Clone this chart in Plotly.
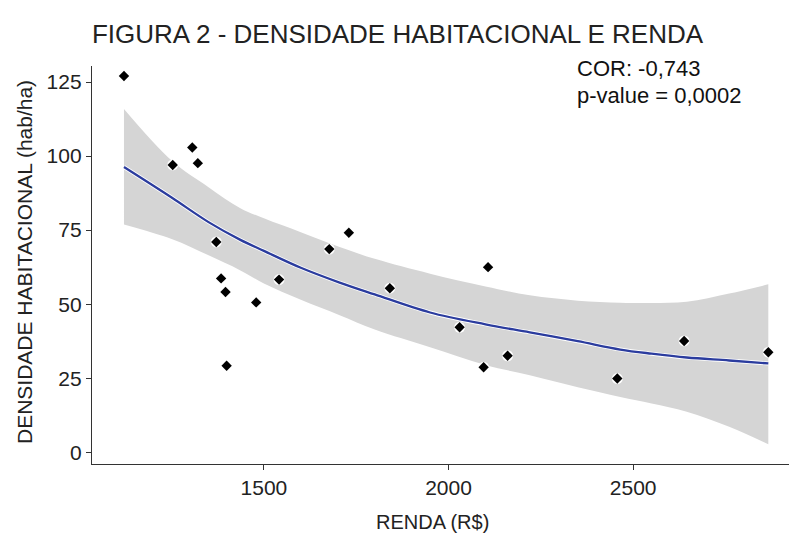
import plotly.graph_objects as go

# Observed points: RENDA (R$) vs DENSIDADE HABITACIONAL (hab/ha)
renda = [1121, 1253, 1306, 1321, 1371, 1384, 1396, 1399, 1479, 1541,
         1677, 1730, 1841, 2030, 2095, 2107, 2160, 2457, 2638, 2866]
densidade = [127.0, 97.0, 102.9, 97.6, 71.0, 58.7, 54.1, 29.2, 50.6, 58.3,
             68.6, 74.1, 55.4, 42.2, 28.7, 62.5, 32.6, 24.9, 37.6, 33.8]

# Smooth fit and its confidence band
smooth_x = [1121, 1250, 1350, 1435, 1500, 1600, 1705, 1800, 1950, 2100,
            2220, 2350, 2465, 2550, 2645, 2760, 2866]
smooth_fit = [96.3, 86.0, 77.7, 71.8, 68.0, 62.3, 57.3, 53.3, 47.2, 43.2,
              40.5, 37.5, 34.7, 33.3, 32.0, 31.0, 30.0]
smooth_upper = [115.9, 98.5, 89.5, 82.5, 79.0, 74.3, 69.3, 65.3, 60.3, 56.0,
                53.0, 51.2, 50.5, 50.4, 50.8, 53.6, 56.7]
smooth_lower = [76.9, 72.0, 66.5, 61.5, 57.0, 51.5, 46.3, 41.5, 35.5, 29.5,
                26.0, 22.0, 18.7, 16.5, 13.7, 8.6, 2.7]

x_ticks = [1500, 2000, 2500]
y_ticks = [0, 25, 50, 75, 100, 125]

title_text = "FIGURA 2 - DENSIDADE HABITACIONAL E RENDA"
x_title = "RENDA (R$)"
y_title = "DENSIDADE HABITACIONAL (hab/ha)"
cor_text = "COR: -0,743"
pval_text = "p-value = 0,0002"

FONT = "Liberation Sans, Arial, sans-serif"
RIBBON = "#D5D5D5"

fig = go.Figure()

# Confidence ribbon (lower edge, then upper edge filled to it)
fig.add_trace(go.Scatter(x=smooth_x, y=smooth_lower, mode="lines",
                         line=dict(width=0, shape="spline", color=RIBBON),
                         hoverinfo="skip", showlegend=False))
fig.add_trace(go.Scatter(x=smooth_x, y=smooth_upper, mode="lines",
                         line=dict(width=0, shape="spline", color=RIBBON),
                         fill="tonexty", fillcolor=RIBBON,
                         hoverinfo="skip", showlegend=False))

# White halo under the fit line
fig.add_trace(go.Scatter(x=smooth_x, y=smooth_fit, mode="lines",
                         line=dict(color="white", width=4, shape="spline"),
                         hoverinfo="skip", showlegend=False))
fig.add_trace(go.Scatter(x=smooth_x, y=smooth_fit, mode="lines",
                         line=dict(color="#2B3C9E", width=2.3, shape="spline"),
                         showlegend=False))

# Points: white halo + black diamond
fig.add_trace(go.Scatter(x=renda, y=densidade, mode="markers",
                         marker=dict(symbol="circle", size=11, color="white"),
                         hoverinfo="skip", showlegend=False))
fig.add_trace(go.Scatter(x=renda, y=densidade, mode="markers",
                         marker=dict(symbol="diamond", size=8, color="black"),
                         showlegend=False))

fig.add_annotation(x=2342, y=129.5, xref="x", yref="y", text=cor_text,
                   showarrow=False, xanchor="left", yanchor="middle",
                   font=dict(family=FONT, size=22, color="#111"))
fig.add_annotation(x=2342, y=120.4, xref="x", yref="y", text=pval_text,
                   showarrow=False, xanchor="left", yanchor="middle",
                   font=dict(family=FONT, size=22, color="#111"))

# Axis titles
fig.add_annotation(x=0.489, y=-0.1457, xref="paper", yref="paper",
                   text=x_title, showarrow=False, xanchor="center",
                   yanchor="middle",
                   font=dict(family=FONT, size=20, color="#222"))
fig.add_annotation(x=-0.0976, y=0.5075, xref="paper", yref="paper",
                   text=y_title, showarrow=False, textangle=-90,
                   xanchor="center", yanchor="middle",
                   font=dict(family=FONT, size=21, color="#222"))

axis_common = dict(showgrid=False, zeroline=False, showline=True,
                   linecolor="#333333", linewidth=1.4, ticks="outside",
                   ticklen=5, tickwidth=1.2, tickcolor="#333333",
                   automargin=False,
                   tickfont=dict(family=FONT, size=21, color="#222"))

fig.update_layout(
    width=789, height=536,
    margin=dict(l=92, r=0, t=66, b=72, autoexpand=False),
    paper_bgcolor="white", plot_bgcolor="white",
    title=dict(text=title_text, x=397.5 / 789, xanchor="center",
               y=1 - 34 / 536, yanchor="middle", automargin=False,
               font=dict(family=FONT, size=26, color="#222")),
    xaxis=dict(range=[1034.4, 2922], tickvals=x_ticks, **axis_common),
    yaxis=dict(range=[-3.94, 130.4], tickvals=y_ticks, **axis_common),
)

fig.write_html("out.html", config={"displayModeBar": False},
               post_script="document.body.style.margin='0';"
                           "document.body.style.overflow='hidden';")
